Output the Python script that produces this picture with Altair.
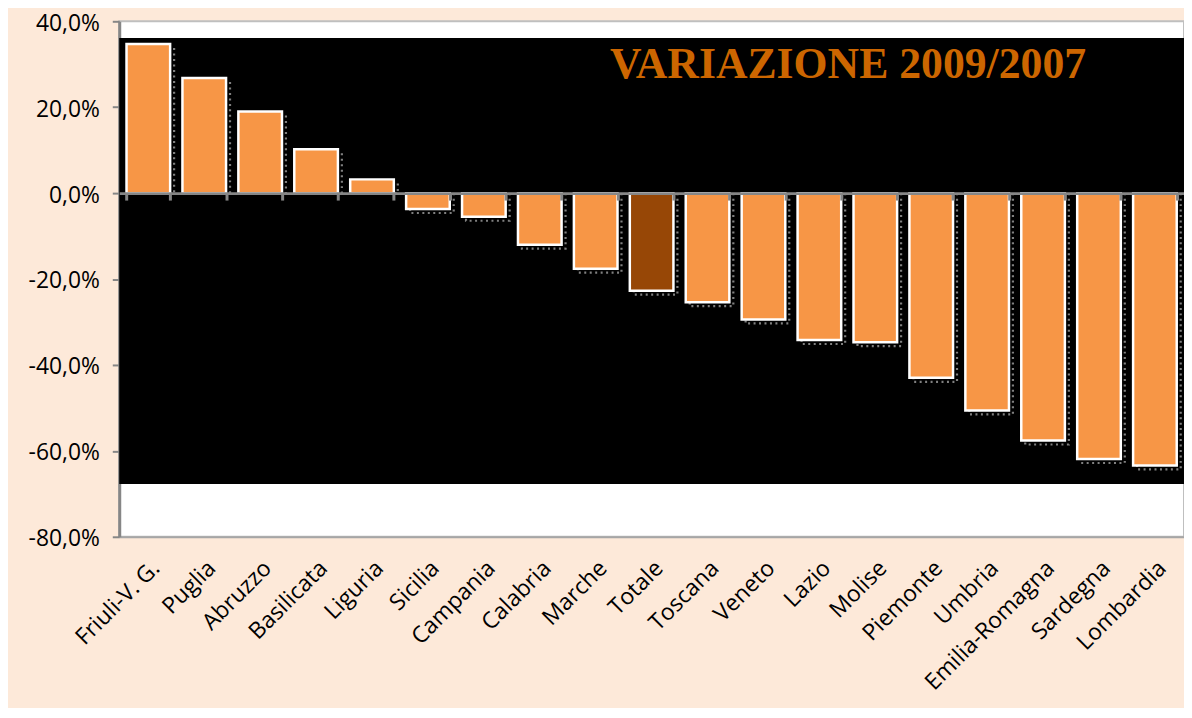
import altair as alt
import pandas as pd

regions = ["Friuli-V. G.", "Puglia", "Abruzzo", "Basilicata", "Liguria", "Sicilia",
           "Campania", "Calabria", "Marche", "Totale", "Toscana", "Veneto", "Lazio",
           "Molise", "Piemonte", "Umbria", "Emilia-Romagna", "Sardegna", "Lombardia"]
values = [34.7, 26.8, 19.0, 10.2, 3.2, -3.7, -5.5, -12.0, -17.6, -22.7, -25.4,
          -29.4, -34.2, -34.7, -43.0, -50.6, -57.6, -61.9, -63.4]
y_ticks = [-80, -60, -40, -20, 0, 20, 40]
title_text = "VARIAZIONE 2009/2007"
panel_top = [36.1]
panel_bottom = [-67.7]

df = pd.DataFrame({
    "region": regions,
    "value": values,
    "kind": ["Totale" if r == "Totale" else "Regione" for r in regions],
})

W, H = 1072, 519
FONT = "Open Sans"
AXIS_GREY = "#868686"

x_scale = alt.Scale(domain=regions, paddingInner=0.22, paddingOuter=0.13)
y_scale = alt.Scale(domain=[-80, 40], nice=False, zero=False)
label_expr = ("(datum.value < 0 ? '-' : '') + "
              "replace(format(abs(datum.value), '.1f'), '.', ',') + '%'")

panel = alt.Chart(pd.DataFrame({"top": panel_top, "bottom": panel_bottom})).mark_rect(
    color="black").encode(
    x=alt.value(0), x2=alt.value(W),
    y=alt.Y("top:Q", scale=y_scale, axis=alt.Axis(
        values=y_ticks, labelExpr=label_expr, title=None, grid=False,
        domainColor=AXIS_GREY, domainWidth=3, tickColor=AXIS_GREY, tickWidth=2,
        tickSize=7, labelFont=FONT, labelFontSize=23, labelColor="black",
        labelPadding=13, labelOffset=2)),
    y2="bottom:Q",
)

shadow = alt.Chart(df).mark_bar(
    fill=None, stroke="#808080", strokeWidth=2.2, strokeDash=[2, 3.5],
    xOffset=4, yOffset=4).encode(
    x=alt.X("region:N", scale=x_scale, axis=None),
    y=alt.Y("value:Q", scale=y_scale),
    y2=alt.datum(0),
)

bars = alt.Chart(df).mark_bar(stroke="white", strokeWidth=2.5).encode(
    x=alt.X("region:N", scale=x_scale, axis=alt.Axis(
        title=None, labelAngle=-45, ticks=False, domainColor="#a6a6a6",
        domainWidth=2, labelFont=FONT, labelFontSize=23, labelColor="black",
        labelPadding=20)),
    y=alt.Y("value:Q", scale=y_scale),
    y2=alt.datum(0),
    color=alt.Color("kind:N", scale=alt.Scale(domain=["Regione", "Totale"],
                                              range=["#f79646", "#974706"]),
                    legend=None),
)

zero_axis = alt.Chart(df).mark_point(opacity=0).encode(
    x=alt.X("region:N", scale=x_scale, axis=alt.Axis(
        orient="bottom", offset=-346, labels=False, title=None, tickBand="extent",
        tickSize=7, tickWidth=3, tickColor=AXIS_GREY, domainColor=AXIS_GREY,
        domainWidth=3, zindex=2)),
    y=alt.Y("value:Q", scale=y_scale),
)

title = alt.Chart(pd.DataFrame({"t": [title_text]})).mark_text(
    font="Liberation Serif", fontSize=44, fontWeight="bold", color="#cc6600",
    align="left", baseline="alphabetic").encode(
    text="t:N", x=alt.value(494), y=alt.value(57))

chart = alt.layer(panel, shadow, bars, zero_axis, title).resolve_axis(
    x="independent").properties(
    width=W, height=H,
    padding={"left": 112, "top": 11, "right": 0, "bottom": 170},
    autosize=alt.AutoSizeParams(type="none"),
    background="#fde9d9",
).configure_view(fill="white", stroke="#bfbfbf", strokeWidth=2)

chart.save("out.html", embed_options={"renderer": "svg", "actions": False})
